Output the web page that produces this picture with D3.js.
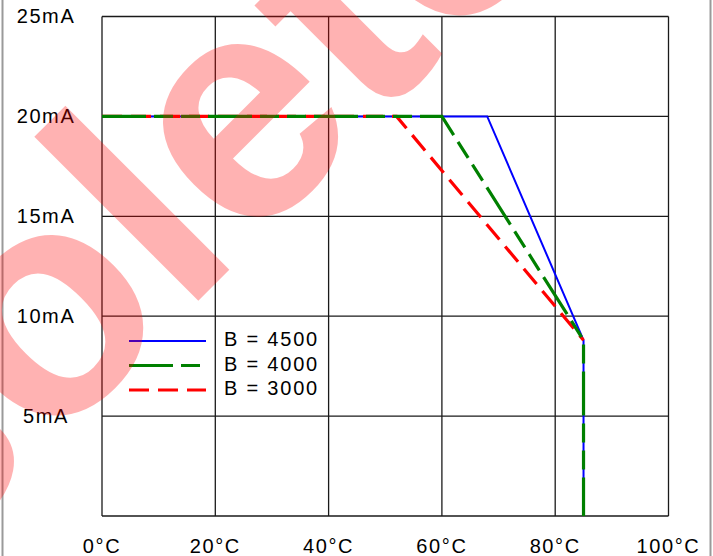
<!DOCTYPE html>
<html>
<head>
<meta charset="utf-8">
<script src="https://cdn.jsdelivr.net/npm/d3@7/dist/d3.min.js"></script>
<style>
  html, body { margin: 0; padding: 0; background: #fff; }
  svg { display: block; }
</style>
</head>
<body>
<svg id="chart" width="713" height="556"></svg>
<script>
// ---- data ----
const xTicks = [0, 20, 40, 60, 80, 100];
const xTickLabels = ["0°C", "20°C", "40°C", "60°C", "80°C", "100°C"];
const yTicks = [0, 5, 10, 15, 20, 25];
const yTickLabels = ["", "5mA", "10mA", "15mA", "20mA", "25mA"];

const seriesNames = ["B = 4500", "B = 4000", "B = 3000"];
const b4500Temp = [0, 68, 85, 85];
const b4500Curr = [20, 20, 8.8, 0];
const b4000Temp = [0, 60, 85, 85];
const b4000Curr = [20, 20, 8.8, 0];
const b3000Temp = [0, 52, 85];
const b3000Curr = [20, 20, 8.8];

const watermarkText = ["Obso", "lete"];

// ---- drawing ----
const svg = d3.select("#chart");
const x = d3.scaleLinear().domain([0, 100]).range([102, 668.5]);
const y = d3.scaleLinear().domain([0, 25]).range([516, 16.5]);

// outer frame (gray)
svg.append("rect")
  .attr("x", 2.5).attr("y", -5).attr("width", 708).attr("height", 570)
  .attr("fill", "none").attr("stroke", "#9a9a9a").attr("stroke-width", 2);

// grid
const grid = svg.append("g").attr("stroke", "#1a1a1a").attr("stroke-width", 1.3);
grid.selectAll("line.v").data(xTicks).join("line")
  .attr("x1", d => x(d)).attr("x2", d => x(d))
  .attr("y1", y(0)).attr("y2", y(25));
grid.selectAll("line.h").data(yTicks).join("line")
  .attr("x1", x(0)).attr("x2", x(100))
  .attr("y1", d => y(d)).attr("y2", d => y(d));

// axis labels
const font = "'Liberation Sans', Arial, Helvetica, sans-serif";
svg.append("g").selectAll("text").data(xTicks).join("text")
  .attr("x", d => x(d)).attr("y", 553)
  .attr("text-anchor", "middle")
  .attr("font-family", font).attr("font-size", 20).attr("letter-spacing", 1.6)
  .attr("fill", "#000")
  .text((d, i) => xTickLabels[i]);
svg.append("g").selectAll("text").data(yTicks).join("text")
  .attr("x", 46).attr("y", d => y(d)).attr("dy", "0.34em")
  .attr("text-anchor", "middle")
  .attr("font-family", font).attr("font-size", 20).attr("letter-spacing", 1.6)
  .attr("fill", "#000")
  .text((d, i) => yTickLabels[i]);

// series
const line = d3.line().x(d => x(d[0])).y(d => y(d[1]));
const styles = [
  { color: "#0000ff", width: 2, dash: null },
  { color: "#008000", width: 3.2, dash: "44,8,19,8,19,8" },
  { color: "#ff0000", width: 3.2, dash: "20,9" }
];
const series = [
  d3.zip(b4500Temp, b4500Curr),
  d3.zip(b4000Temp, b4000Curr),
  d3.zip(b3000Temp, b3000Curr)
];
// draw order: blue, red, green
[0, 2, 1].forEach(i => {
  svg.append("path")
    .datum(series[i])
    .attr("d", line)
    .attr("fill", "none")
    .attr("stroke", styles[i].color)
    .attr("stroke-width", styles[i].width)
    .attr("stroke-dasharray", styles[i].dash)
    .attr("stroke-linejoin", "miter");
});

// legend
const leg = svg.append("g");
seriesNames.forEach((name, i) => {
  const ly = 341 + i * 24.5;
  leg.append("line")
    .attr("x1", 129).attr("x2", 206).attr("y1", ly).attr("y2", ly)
    .attr("stroke", styles[i].color)
    .attr("stroke-width", styles[i].width)
    .attr("stroke-dasharray", styles[i].dash);
  leg.append("text")
    .attr("x", 224).attr("y", ly).attr("dy", "0.25em")
    .attr("font-family", font).attr("font-size", 20).attr("letter-spacing", 1.8)
    .attr("fill", "#000")
    .text(name);
});

// watermark
const wm = svg.append("g")
  .attr("transform", "translate(182.5,316.5) rotate(-45)")
  .attr("font-family", font).attr("font-weight", "bold").attr("font-size", 320)
  .attr("fill", "#ff0000").attr("fill-opacity", 0.3);
wm.append("text").attr("text-anchor", "end").text(watermarkText[0]);
wm.append("text").attr("text-anchor", "start").text(watermarkText[1]);
</script>
</body>
</html>
